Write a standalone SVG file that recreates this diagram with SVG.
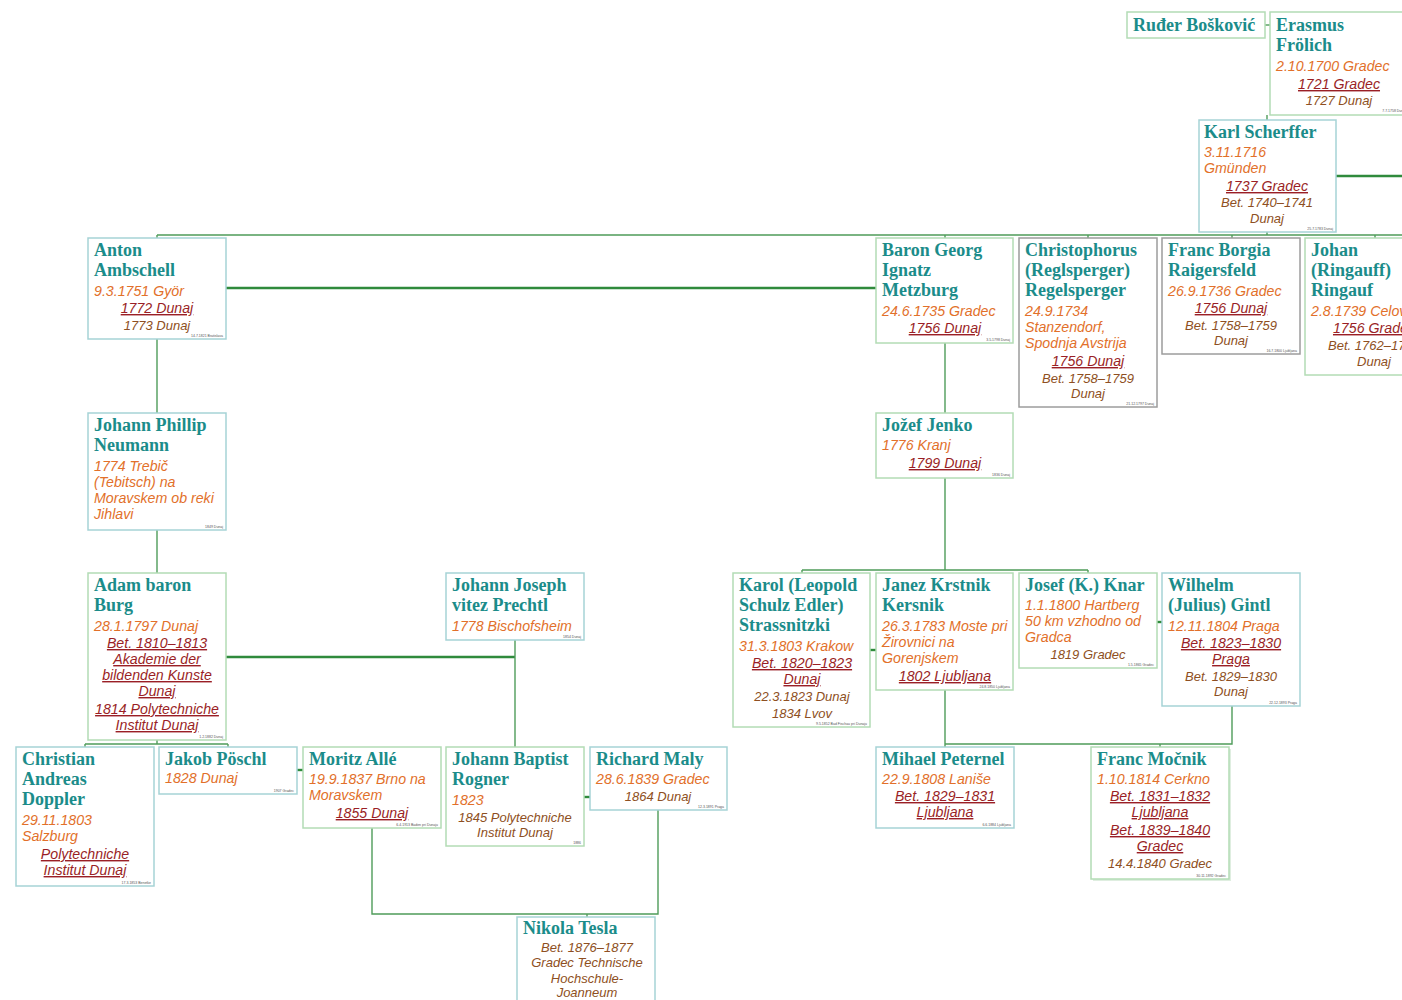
<svg xmlns="http://www.w3.org/2000/svg" width="1402" height="1000" viewBox="0 0 1402 1000">
<style>
rect{fill:#fff;stroke-width:1.5}
.g{stroke:#b3dcb5}
.t{stroke:#a6d3d6}
.y{stroke:#9c9c9c}
.n{font-family:"Liberation Serif",serif;font-weight:bold;font-size:18px;fill:#1b8c8a}
.o{font-family:"Liberation Sans",Arial,sans-serif;font-style:italic;font-size:14.2px;fill:#e2702a}
.u{font-family:"Liberation Sans",Arial,sans-serif;font-style:italic;font-size:14.2px;fill:#9a1f26;text-decoration:underline;text-anchor:middle}
.r{font-family:"Liberation Sans",Arial,sans-serif;font-style:italic;font-size:13px;fill:#8e4f22;text-anchor:middle}
.s{font-family:"Liberation Sans",Arial,sans-serif;font-size:3.5px;fill:#555;text-anchor:end}
.c{fill:none;stroke:#4f9c5a;stroke-width:1.4}
.k{fill:none;stroke:#2f8a3c;stroke-width:2.4}
</style>
<g id="connectors">
<path class="c" d="M1265 25H1270"/>
<path class="c" d="M1267 115V120"/>
<path class="k" d="M1336 176H1402"/>
<path class="c" d="M157 235H1402M1267 232V235M157 235V238M945 235V238M1088 235V238M1232 235V238M1375 235V238"/>
<path class="k" d="M226 288H876"/>
<path class="c" d="M157 339V413"/>
<path class="c" d="M945 343V413"/>
<path class="c" d="M157 530V573"/>
<path class="c" d="M945 478V570M802 570H1088M802 570V573M1088 570V573"/>
<path class="k" d="M870 650H876"/>
<path class="k" d="M1157 622H1162"/>
<path class="k" d="M226 657H515"/>
<path class="c" d="M515 640V747"/>
<path class="c" d="M157 740V744M85 744H228M85 744V747M228 744V747"/>
<path class="k" d="M297 770H303"/>
<path class="k" d="M584 797H590"/>
<path class="c" d="M372 828V914H658V810M587 914V917"/>
<path class="c" d="M945 690V744H1232V706M945 744V747M1160 744V747"/>
</g>
<g id="boskovic"><rect class="g" x="1127" y="12" width="138" height="26"/><text class="n" x="1133" y="31">Ruđer Bošković</text></g>
<g id="frolich"><rect class="g" x="1270" y="12" width="138" height="103"/><text class="n" x="1276" y="31">Erasmus</text><text class="n" x="1276" y="51">Frölich</text><text class="o" x="1276" y="71">2.10.1700 Gradec</text><text class="u" x="1339" y="89">1721 Gradec</text><text class="r" x="1339" y="105">1727 Dunaj</text><text class="s" x="1406" y="112">7.7.1758 Dunaj</text></g>
<g id="scherffer"><rect class="t" x="1199" y="120" width="137" height="112"/><text class="n" x="1204" y="138">Karl Scherffer</text><text class="o" x="1204" y="157">3.11.1716</text><text class="o" x="1204" y="173">Gmünden</text><text class="u" x="1267" y="191">1737 Gradec</text><text class="r" x="1267" y="207">Bet. 1740–1741</text><text class="r" x="1267" y="223">Dunaj</text><text class="s" x="1333" y="230">25.7.1783 Dunaj</text></g>
<g id="ambschell"><rect class="t" x="88" y="238" width="138" height="101"/><text class="n" x="94" y="256">Anton</text><text class="n" x="94" y="276">Ambschell</text><text class="o" x="94" y="296">9.3.1751 Györ</text><text class="u" x="157" y="313">1772 Dunaj</text><text class="r" x="157" y="330">1773 Dunaj</text><text class="s" x="223" y="337">14.7.1821 Bratislava</text></g>
<g id="metzburg"><rect class="g" x="876" y="238" width="137" height="105"/><text class="n" x="882" y="256">Baron Georg</text><text class="n" x="882" y="276">Ignatz</text><text class="n" x="882" y="296">Metzburg</text><text class="o" x="882" y="316">24.6.1735 Gradec</text><text class="u" x="945" y="333">1756 Dunaj</text><text class="s" x="1010" y="341">3.5.1798 Dunaj</text></g>
<g id="regelsperger"><rect class="y" x="1019" y="238" width="138" height="169"/><text class="n" x="1025" y="256">Christophorus</text><text class="n" x="1025" y="276">(Reglsperger)</text><text class="n" x="1025" y="296">Regelsperger</text><text class="o" x="1025" y="316">24.9.1734</text><text class="o" x="1025" y="332">Stanzendorf,</text><text class="o" x="1025" y="348">Spodnja Avstrija</text><text class="u" x="1088" y="366">1756 Dunaj</text><text class="r" x="1088" y="383">Bet. 1758–1759</text><text class="r" x="1088" y="398">Dunaj</text><text class="s" x="1154" y="405">21.12.1797 Dunaj</text></g>
<g id="raigersfeld"><rect class="y" x="1162" y="238" width="138" height="116"/><text class="n" x="1168" y="256">Franc Borgia</text><text class="n" x="1168" y="276">Raigersfeld</text><text class="o" x="1168" y="296">26.9.1736 Gradec</text><text class="u" x="1231" y="313">1756 Dunaj</text><text class="r" x="1231" y="330">Bet. 1758–1759</text><text class="r" x="1231" y="345">Dunaj</text><text class="s" x="1297" y="352">16.7.1800 Ljubljana</text></g>
<g id="ringauf"><rect class="g" x="1305" y="238" width="138" height="137"/><text class="n" x="1311" y="256">Johan</text><text class="n" x="1311" y="276">(Ringauff)</text><text class="n" x="1311" y="296">Ringauf</text><text class="o" x="1311" y="316">2.8.1739 Celovec</text><text class="u" x="1374" y="333">1756 Gradec</text><text class="r" x="1374" y="350">Bet. 1762–1763</text><text class="r" x="1374" y="366">Dunaj</text></g>
<g id="neumann"><rect class="t" x="88" y="413" width="138" height="117"/><text class="n" x="94" y="431">Johann Phillip</text><text class="n" x="94" y="451">Neumann</text><text class="o" x="94" y="471">1774 Trebič</text><text class="o" x="94" y="487">(Tebitsch) na</text><text class="o" x="94" y="503">Moravskem ob reki</text><text class="o" x="94" y="519">Jihlavi</text><text class="s" x="223" y="528">1849 Dunaj</text></g>
<g id="jenko"><rect class="g" x="876" y="413" width="137" height="65"/><text class="n" x="882" y="431">Jožef Jenko</text><text class="o" x="882" y="450">1776 Kranj</text><text class="u" x="945" y="468">1799 Dunaj</text><text class="s" x="1010" y="476">1836 Dunaj</text></g>
<g id="burg"><rect class="g" x="88" y="573" width="138" height="167"/><text class="n" x="94" y="591">Adam baron</text><text class="n" x="94" y="611">Burg</text><text class="o" x="94" y="631">28.1.1797 Dunaj</text><text class="u" x="157" y="648">Bet. 1810–1813</text><text class="u" x="157" y="664">Akademie der</text><text class="u" x="157" y="680">bildenden Kunste</text><text class="u" x="157" y="696">Dunaj</text><text class="u" x="157" y="714">1814 Polytechniche</text><text class="u" x="157" y="730">Institut Dunaj</text><text class="s" x="223" y="738">1.2.1882 Dunaj</text></g>
<g id="prechtl"><rect class="t" x="446" y="573" width="138" height="67"/><text class="n" x="452" y="591">Johann Joseph</text><text class="n" x="452" y="611">vitez Prechtl</text><text class="o" x="452" y="631">1778 Bischofsheim</text><text class="s" x="581" y="638">1854 Dunaj</text></g>
<g id="strassnitzki"><rect class="g" x="733" y="573" width="137" height="154"/><text class="n" x="739" y="591">Karol (Leopold</text><text class="n" x="739" y="611">Schulz Edler)</text><text class="n" x="739" y="631">Strassnitzki</text><text class="o" x="739" y="651">31.3.1803 Krakow</text><text class="u" x="802" y="668">Bet. 1820–1823</text><text class="u" x="802" y="684">Dunaj</text><text class="r" x="802" y="701">22.3.1823 Dunaj</text><text class="r" x="802" y="718">1834 Lvov</text><text class="s" x="867" y="725">9.5.1852 Bad Fischau pri Dunaju</text></g>
<g id="kersnik"><rect class="g" x="876" y="573" width="137" height="117"/><text class="n" x="882" y="591">Janez Krstnik</text><text class="n" x="882" y="611">Kersnik</text><text class="o" x="882" y="631">26.3.1783 Moste pri</text><text class="o" x="882" y="647">Žirovnici na</text><text class="o" x="882" y="663">Gorenjskem</text><text class="u" x="945" y="681">1802 Ljubljana</text><text class="s" x="1010" y="688">24.8.1850 Ljubljana</text></g>
<g id="knar"><rect class="g" x="1019" y="573" width="138" height="95"/><text class="n" x="1025" y="591">Josef (K.) Knar</text><text class="o" x="1025" y="610">1.1.1800 Hartberg</text><text class="o" x="1025" y="626">50 km vzhodno od</text><text class="o" x="1025" y="642">Gradca</text><text class="r" x="1088" y="659">1819 Gradec</text><text class="s" x="1154" y="666">1.5.1865 Gradec</text></g>
<g id="gintl"><rect class="t" x="1162" y="573" width="138" height="133"/><text class="n" x="1168" y="591">Wilhelm</text><text class="n" x="1168" y="611">(Julius) Gintl</text><text class="o" x="1168" y="631">12.11.1804 Praga</text><text class="u" x="1231" y="648">Bet. 1823–1830</text><text class="u" x="1231" y="664">Praga</text><text class="r" x="1231" y="681">Bet. 1829–1830</text><text class="r" x="1231" y="696">Dunaj</text><text class="s" x="1297" y="704">22.12.1893 Praga</text></g>
<g id="doppler"><rect class="t" x="16" y="747" width="138" height="139"/><text class="n" x="22" y="765">Christian</text><text class="n" x="22" y="785">Andreas</text><text class="n" x="22" y="805">Doppler</text><text class="o" x="22" y="825">29.11.1803</text><text class="o" x="22" y="841">Salzburg</text><text class="u" x="85" y="859">Polytechniche</text><text class="u" x="85" y="875">Institut Dunaj</text><text class="s" x="151" y="884">17.3.1853 Benetke</text></g>
<g id="poschl"><rect class="t" x="159" y="747" width="138" height="47"/><text class="n" x="165" y="765">Jakob Pöschl</text><text class="o" x="165" y="783">1828 Dunaj</text><text class="s" x="294" y="792">1907 Gradec</text></g>
<g id="alle"><rect class="g" x="303" y="747" width="138" height="81"/><text class="n" x="309" y="765">Moritz Allé</text><text class="o" x="309" y="784">19.9.1837 Brno na</text><text class="o" x="309" y="800">Moravskem</text><text class="u" x="372" y="818">1855 Dunaj</text><text class="s" x="438" y="826">6.4.1913 Baden pri Dunaju</text></g>
<g id="rogner"><rect class="g" x="446" y="747" width="138" height="99"/><text class="n" x="452" y="765">Johann Baptist</text><text class="n" x="452" y="785">Rogner</text><text class="o" x="452" y="805">1823</text><text class="r" x="515" y="822">1845 Polytechniche</text><text class="r" x="515" y="837">Institut Dunaj</text><text class="s" x="581" y="844">1886</text></g>
<g id="maly"><rect class="t" x="590" y="747" width="137" height="63"/><text class="n" x="596" y="765">Richard Maly</text><text class="o" x="596" y="784">28.6.1839 Gradec</text><text class="r" x="658" y="801">1864 Dunaj</text><text class="s" x="724" y="808">12.3.1891 Praga</text></g>
<g id="tesla"><rect class="t" x="517" y="917" width="138" height="90"/><text class="n" x="523" y="934">Nikola Tesla</text><text class="r" x="587" y="952">Bet. 1876–1877</text><text class="r" x="587" y="967">Gradec Technische</text><text class="r" x="587" y="983">Hochschule-</text><text class="r" x="587" y="997">Joanneum</text></g>
<g id="peternel"><rect class="t" x="876" y="747" width="138" height="81"/><text class="n" x="882" y="765">Mihael Peternel</text><text class="o" x="882" y="784">22.9.1808 Laniše</text><text class="u" x="945" y="801">Bet. 1829–1831</text><text class="u" x="945" y="817">Ljubljana</text><text class="s" x="1011" y="826">6.6.1884 Ljubljana</text></g>
<g id="mocnik"><rect x="1093" y="749" width="138" height="132" style="fill:#dfeee0;stroke:none"/><rect class="g" x="1091" y="747" width="138" height="132"/><text class="n" x="1097" y="765">Franc Močnik</text><text class="o" x="1097" y="784">1.10.1814 Cerkno</text><text class="u" x="1160" y="801">Bet. 1831–1832</text><text class="u" x="1160" y="817">Ljubljana</text><text class="u" x="1160" y="835">Bet. 1839–1840</text><text class="u" x="1160" y="851">Gradec</text><text class="r" x="1160" y="868">14.4.1840 Gradec</text><text class="s" x="1226" y="877">30.11.1892 Gradec</text></g>
</svg>
